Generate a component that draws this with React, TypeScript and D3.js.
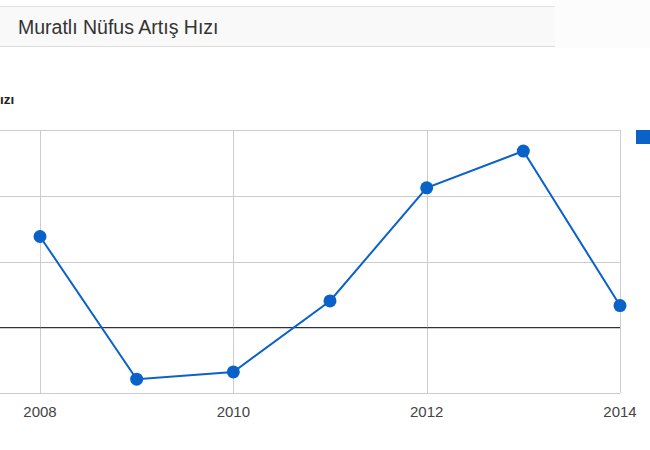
import React from "react";
import * as d3 from "d3";

const years = [2008, 2009, 2010, 2011, 2012, 2013, 2014];
const rates = [13.8, -7.9, -6.8, 4.0, 21.2, 26.8, 3.3];
const yTicks = [-10, 0, 10, 20, 30];
const xTicks = [2008, 2010, 2012, 2014];
const title = "Muratlı Nüfus Artış Hızı";
const subtitle = "ızı";

export default function App() {
  const W = 650, H = 450;
  const x = d3.scaleLinear().domain([2008, 2014]).range([40, 620]);
  const y = d3.scaleLinear().domain([-10, 30]).range([393, 130]);
  const line = d3.line<number>().x((_, i) => x(years[i])).y((d) => y(d));
  const blue = "#0a62c9";
  return (
    <svg width={W} height={H} style={{ position: "absolute", left: 0, top: 0, background: "#fff" }}
      fontFamily="Arial, 'Liberation Sans', sans-serif">
      <rect x={555} y={0} width={95} height={48} fill="#fcfcfc" />
      <rect x={0} y={6} width={555} height={41} fill="#f9f9f9" />
      <line x1={0} x2={555} y1={6.5} y2={6.5} stroke="#e2e2e2" />
      <line x1={0} x2={555} y1={46.5} y2={46.5} stroke="#dcdcdc" />
      <text x={18} y={34} fontSize={19.5} fill="#333">{title}</text>
      <text x={0} y={104} fontSize={13.5} fontWeight="bold" fill="#222">{subtitle}</text>
      {yTicks.map((t) => (
        <line key={"h" + t} x1={0} x2={620} y1={Math.round(y(t)) + 0.5} y2={Math.round(y(t)) + 0.5}
          stroke={t === 0 ? "#333" : "#cccccc"} strokeWidth={1} />
      ))}
      {xTicks.map((t) => (
        <line key={"v" + t} x1={Math.round(x(t)) + 0.5} x2={Math.round(x(t)) + 0.5} y1={130} y2={393}
          stroke="#cccccc" />
      ))}
      <line x1={0} x2={620} y1={y(0) + 0.5} y2={y(0) + 0.5} stroke="#333" />
      <path d={line(rates) || ""} fill="none" stroke={blue} strokeWidth={2} />
      {rates.map((v, i) => (
        <circle key={i} cx={x(years[i])} cy={y(v)} r={6.5} fill={blue} />
      ))}
      {xTicks.map((t) => (
        <text key={"l" + t} x={x(t)} y={417} textAnchor="middle" fontSize={15} fill="#444">{t}</text>
      ))}
      <rect x={636} y={130} width={14} height={14} fill={blue} />
    </svg>
  );
}
